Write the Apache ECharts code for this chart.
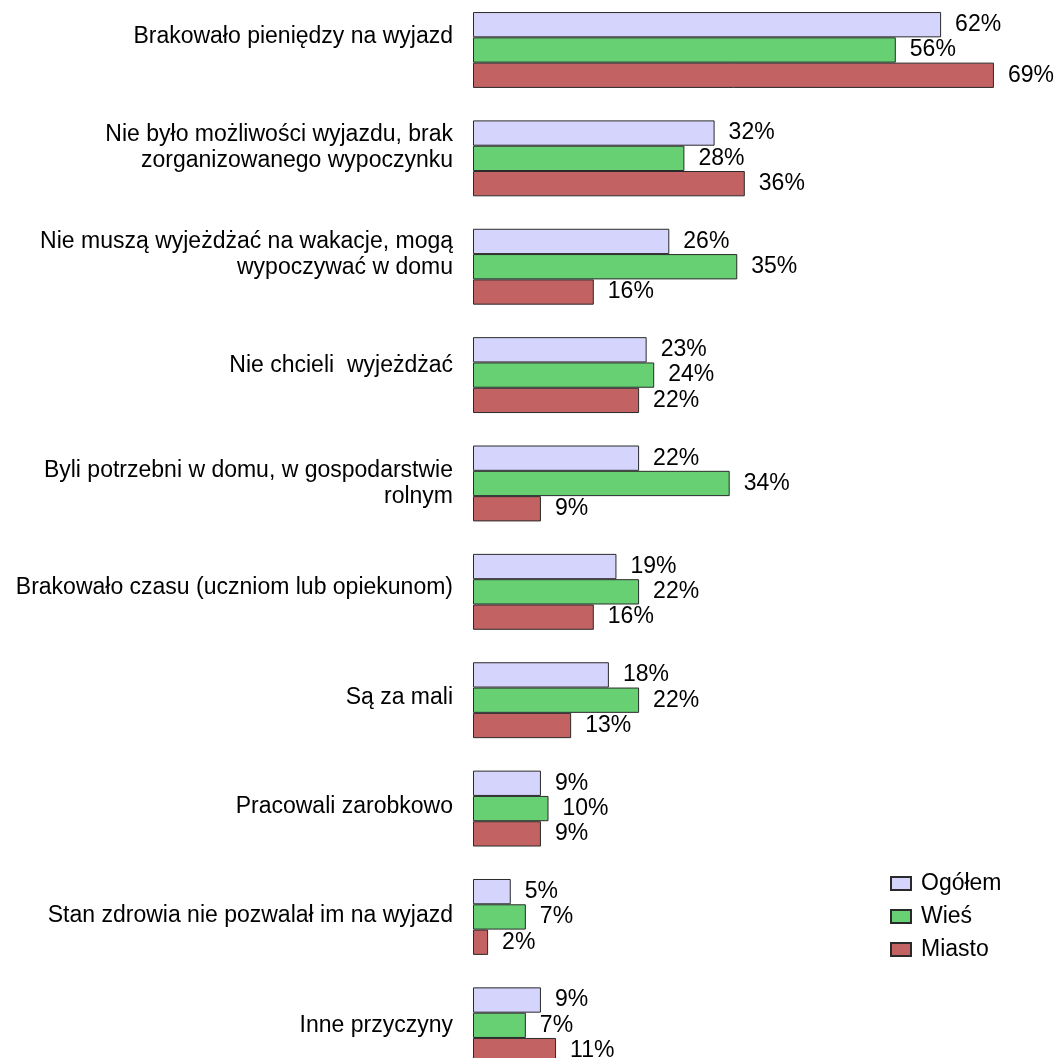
<!DOCTYPE html>
<html>
<head>
<meta charset="utf-8">
<script src="https://cdn.jsdelivr.net/npm/echarts@6/dist/echarts.min.js"></script>
<style>
html,body{margin:0;padding:0;background:#fff;}
#chart{width:1057px;height:1058px;}
</style>
</head>
<body>
<div id="chart"></div>
<script>
var categories = [
  "Brakowało pieniędzy na wyjazd",
  "Nie było możliwości wyjazdu, brak\nzorganizowanego wypoczynku",
  "Nie muszą wyjeżdżać na wakacje, mogą\nwypoczywać w domu",
  "Nie chcieli  wyjeżdżać",
  "Byli potrzebni w domu, w gospodarstwie\nrolnym",
  "Brakowało czasu (uczniom lub opiekunom)",
  "Są za mali",
  "Pracowali zarobkowo",
  "Stan zdrowia nie pozwalał im na wyjazd",
  "Inne przyczyny"
];
var seriesNames = ["Ogółem", "Wieś", "Miasto"];
var ogolem = [62, 32, 26, 23, 22, 19, 18, 9, 5, 9];
var wies   = [56, 28, 35, 24, 34, 22, 22, 10, 7, 7];
var miasto = [69, 36, 16, 22, 9, 16, 13, 9, 2, 11];

// label style: upward shift of each category label (px)
var labelShift = [13, 11, 12, 9, 0, 4, 3, 1.5, 1, 0];
var colors = ["#d4d4fd", "#67d073", "#c26262"];
var FONT = "'Liberation Sans', Arial, sans-serif";

var rich = {
  t: { fontSize: 23, lineHeight: 26, color: '#000', fontFamily: FONT, align: 'right' }
};
labelShift.forEach(function (s, i) {
  rich['g' + i] = { fontSize: 1, lineHeight: Math.max(0.01, s * 2), color: 'rgba(0,0,0,0)', align: 'right' };
});

function mkSeries(name, data, color) {
  return {
    name: name,
    type: 'bar',
    data: data,
    barWidth: 25.3,
    barGap: '0%',
    itemStyle: { color: color, borderColor: '#2a2a2a', borderWidth: 1 },
    label: {
      show: true,
      position: 'right',
      distance: 14,
      formatter: '{c}%',
      color: '#000',
      fontSize: 23,
      fontFamily: FONT
    },
    emphasis: { disabled: true },
    animation: false
  };
}

var chart = echarts.init(document.getElementById('chart'), null, { renderer: 'canvas' });
chart.setOption({
  backgroundColor: '#fff',
  animation: false,
  textStyle: { fontFamily: FONT },
  legend: {
    orient: 'vertical',
    left: 885,
    top: 867,
    icon: 'rect',
    itemWidth: 20,
    itemHeight: 13,
    itemGap: 10,
    data: seriesNames,
    textStyle: { fontSize: 23, color: '#000', fontFamily: FONT, padding: [0, 0, 0, 5] }
  },
  grid: { left: 473, top: -4.2, width: 528.5, height: 1083.7, containLabel: false, outerBoundsMode: 'none' },
  xAxis: {
    type: 'value',
    min: 0,
    max: 70,
    show: false
  },
  yAxis: {
    type: 'category',
    inverse: true,
    data: categories,
    axisLine: { show: false },
    axisTick: { show: false },
    splitLine: { show: false },
    axisLabel: {
      margin: 20,
      fontSize: 23,
      lineHeight: 26,
      color: '#000',
      align: 'right',
      fontFamily: FONT,
      hideOverlap: false,
      interval: 0,
      formatter: function (v, i) {
        var lines = v.split('\n').map(function (l) { return '{t|' + l + '}'; });
        var s = lines.join('\n');
        if (labelShift[i] > 0) s += '\n{g' + i + '| }';
        return s;
      },
      rich: rich
    }
  },
  series: [
    mkSeries(seriesNames[0], ogolem, colors[0]),
    mkSeries(seriesNames[1], wies, colors[1]),
    mkSeries(seriesNames[2], miasto, colors[2])
  ]
});
</script>
</body>
</html>
